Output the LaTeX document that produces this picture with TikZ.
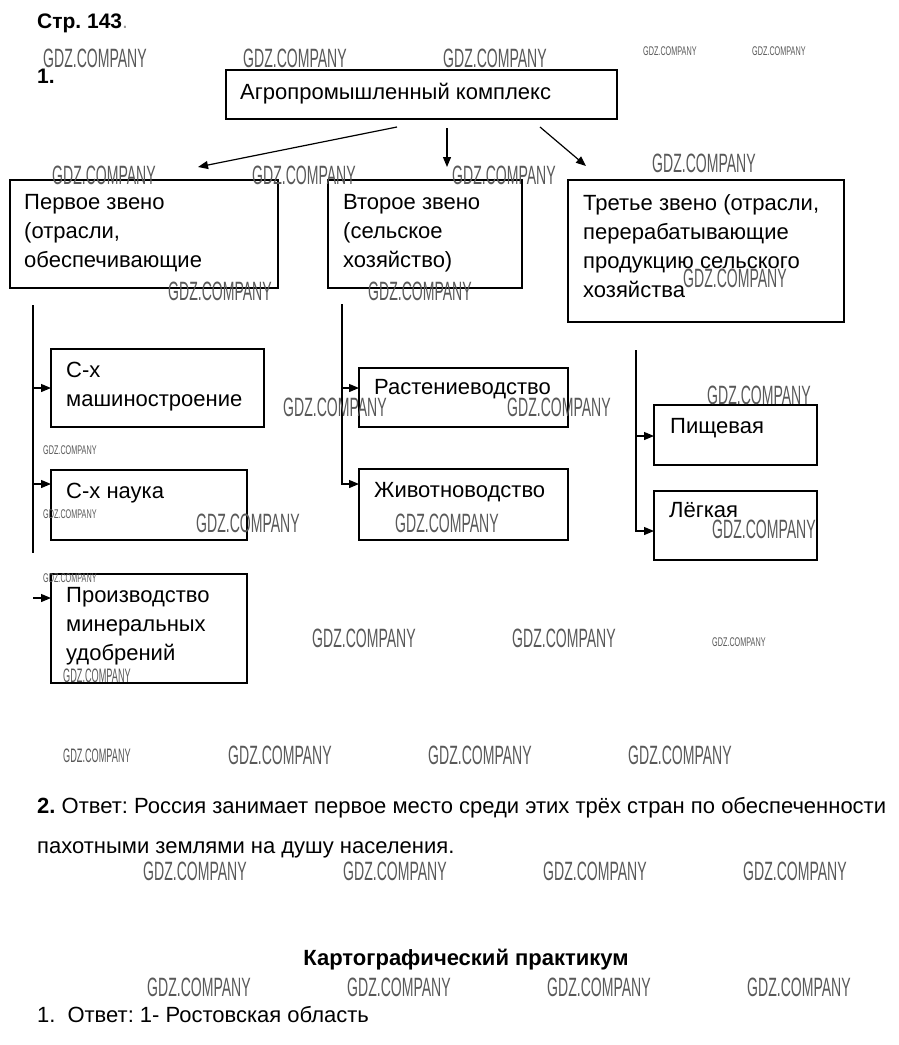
\documentclass[tikz,border=0pt]{standalone}
\usepackage{fontspec}
\usepackage{graphicx}
\setmainfont{Liberation Sans}
\frenchspacing
\usetikzlibrary{arrows.meta}
\newcommand\mlines[1]{\vtop{\baselineskip=29pt\lineskiplimit=-100pt\halign{##\hfil\cr#1\crcr}}}
\newcommand\wmB{\scalebox{0.53}[1]{\fontsize{26.5}{30}\selectfont GDZ.COMPANY}}
\newcommand\wmS{\scalebox{0.575}[1]{\fontsize{12.6}{14}\selectfont GDZ.COMPANY}}
\newcommand\wmM{\scalebox{0.47}[1]{\fontsize{19.5}{22}\selectfont GDZ.COMPANY}}
\tikzset{
  boxnode/.style={draw, line width=1.2pt, inner sep=0pt, outer sep=0pt, anchor=north west},
  txt/.style={inner sep=0pt, anchor=base west, font=\fontsize{22}{29}\selectfont\frenchspacing},
  wm/.style={inner sep=0pt, anchor=base west, text=black!65},
  arr/.style={line width=1.2pt, -{Triangle[length=10pt,width=8pt]}},
  trunk/.style={line width=1.2pt}
}
\begin{document}
\begin{tikzpicture}[x=1pt,y=-1pt]
\fill[white] (0,0) rectangle (899,1045);
\useasboundingbox (0,0) rectangle (899,1045);
% boxes
\node[boxnode, minimum width=391pt, minimum height=49pt] (top) at (226,70) {};
\node[boxnode, minimum width=268pt, minimum height=108pt] (b1) at (10,180) {};
\node[boxnode, minimum width=194pt, minimum height=108pt] (b2) at (328,180) {};
\node[boxnode, minimum width=276pt, minimum height=142pt] (b3) at (568,180) {};
\node[boxnode, minimum width=213pt, minimum height=78pt] (bm) at (51,349) {};
\node[boxnode, minimum width=196pt, minimum height=70pt] (bn) at (51,470) {};
\node[boxnode, minimum width=196pt, minimum height=109pt] (bp) at (51,574) {};
\node[boxnode, minimum width=209pt, minimum height=59pt] (br) at (359,368) {};
\node[boxnode, minimum width=209pt, minimum height=71pt] (bz) at (359,469) {};
\node[boxnode, minimum width=163pt, minimum height=60pt] (bf) at (654,405) {};
\node[boxnode, minimum width=163pt, minimum height=69pt] (bl) at (654,491) {};
% texts
\node[txt, font=\fontsize{21}{24}\selectfont\bfseries\frenchspacing] (title) at (37,28) {Стр. 143\textcolor{black!40}{\normalfont.}};
\node[txt, font=\fontsize{21}{24}\selectfont\bfseries] (n1) at (37,83) {1.};
\node[txt] (ttop) at (240,99) {Агропромышленный комплекс};
\node[txt] (t1) at (24,209) {\mlines{Первое звено\cr(отрасли,\cr обеспечивающие}};
\node[txt] (t2) at (343,209) {\mlines{Второе звено\cr(сельское\cr хозяйство)}};
\node[txt] (t3) at (583,210) {\mlines{Третье звено (отрасли,\cr перерабатывающие\cr продукцию сельского\cr хозяйства}};
\node[txt] (tm) at (66,377) {\mlines{С-х\cr машиностроение}};
\node[txt] (tn) at (66,498) {С-х наука};
\node[txt] (tp) at (66,602) {\mlines{Производство\cr минеральных\cr удобрений}};
\node[txt] (tr) at (374,394) {Растениеводство};
\node[txt] (tz) at (374,497) {Животноводство};
\node[txt] (tf) at (670,433) {Пищевая};
\node[txt] (tl) at (669,517) {Лёгкая};
\node[txt] (q2a) at (37,813) {\textbf{2.} Ответ: Россия занимает первое место среди этих трёх стран по обеспеченности};
\node[txt] (q2b) at (37,853) {пахотными землями на душу населения.};
\node[txt, anchor=base, font=\fontsize{22}{24}\selectfont\bfseries] (kp) at (466,965) {Картографический практикум};
\node[txt] (k1) at (37,1022) {1.\hspace{12pt}Ответ: 1- Ростовская область};
% connectors from the top box
\coordinate (a1s) at (397,127); \coordinate (a1e) at (198,167);
\coordinate (a2s) at (447,128); \coordinate (a2e) at (447,167);
\coordinate (a3s) at (540,127); \coordinate (a3e) at (586,166);
\draw[arr] (a1s) -- (a1e);
\draw[arr] (a2s) -- (a2e);
\draw[arr] (a3s) -- (a3e);
% left trunk
\coordinate (L0) at (33,305); \coordinate (L1) at (33,553);
\draw[trunk] (L0) -- (L1);
\coordinate (jm) at (33,388); \coordinate (jn) at (33,484); \coordinate (jp) at (33,598);
\draw[arr] (jm) -- (jm -| bm.west);
\draw[arr] (jn) -- (jn -| bn.west);
\draw[arr] (jp) -- (jp -| bp.west);
% middle trunk
\coordinate (M0) at (342,304); \coordinate (jr) at (342,388); \coordinate (jz) at (342,484);
\draw[arr] (M0) -- (jz) -- (jz -| bz.west);
\draw[arr] (jr) -- (jr -| br.west);
% right trunk
\coordinate (R0) at (636,350); \coordinate (jf) at (636,436); \coordinate (jl) at (636,531);
\draw[arr] (R0) -- (jl) -- (jl -| bl.west);
\draw[arr] (jf) -- (jf -| bf.west);
% watermarks
\node[wm] (w1) at (43,67) {\wmB};
\node[wm] (w2) at (243,67) {\wmB};
\node[wm] (w3) at (443,67) {\wmB};
\node[wm] (w4) at (643,55) {\wmS};
\node[wm] (w5) at (752,55) {\wmS};
\node[wm] (w6) at (52,184) {\wmB};
\node[wm] (w7) at (252,184) {\wmB};
\node[wm] (w8) at (452,184) {\wmB};
\node[wm] (w9) at (652,172) {\wmB};
\node[wm] (w10) at (168,300) {\wmB};
\node[wm] (w11) at (368,300) {\wmB};
\node[wm] (w12) at (683,287) {\wmB};
\node[wm] (w13) at (283,416) {\wmB};
\node[wm] (w14) at (507,416) {\wmB};
\node[wm] (w15) at (707,404) {\wmB};
\node[wm] (w16) at (43,454) {\wmS};
\node[wm] (w17) at (43,518) {\wmS};
\node[wm] (w18) at (196,532) {\wmB};
\node[wm] (w19) at (395,532) {\wmB};
\node[wm] (w20) at (712,538) {\wmB};
\node[wm] (w21) at (43,582) {\wmS};
\node[wm] (w22) at (63,682) {\wmM};
\node[wm] (w23) at (312,647) {\wmB};
\node[wm] (w24) at (512,647) {\wmB};
\node[wm] (w25) at (712,646) {\wmS};
\node[wm] (w26) at (63,762) {\wmM};
\node[wm] (w27) at (228,764) {\wmB};
\node[wm] (w28) at (428,764) {\wmB};
\node[wm] (w29) at (628,764) {\wmB};
\node[wm] (w30) at (143,880) {\wmB};
\node[wm] (w31) at (343,880) {\wmB};
\node[wm] (w32) at (543,880) {\wmB};
\node[wm] (w33) at (743,880) {\wmB};
\node[wm] (w34) at (147,996) {\wmB};
\node[wm] (w35) at (347,996) {\wmB};
\node[wm] (w36) at (547,996) {\wmB};
\node[wm] (w37) at (747,996) {\wmB};
\end{tikzpicture}
\end{document}
